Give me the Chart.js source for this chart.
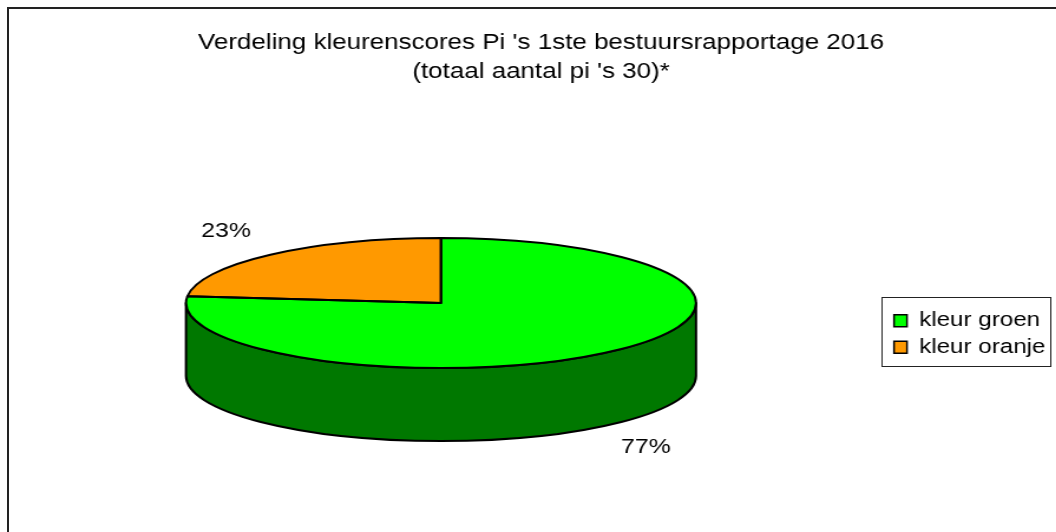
<!DOCTYPE html>
<html lang="nl">
<head>
<meta charset="UTF-8">
<title>Verdeling kleurenscores Pi's 2016</title>
<script src="https://cdn.jsdelivr.net/npm/chart.js"></script>
<style>
    html, body { margin: 0; padding: 0; background: #fff; overflow: hidden; }
    #frame {
        position: absolute; left: 7px; top: 7px;
        width: 1066px; height: 600px;
        border: 2px solid #222;
    }
    #pie { position: absolute; left: 0; top: 0; transform-origin: 0 0; }
</style>
</head>
<body>
<div id="frame"></div>
<canvas id="pie" width="917" height="532"></canvas>

<script>
    // data
    const TITLE_LINES = ["Verdeling kleurenscores Pi 's 1ste bestuursrapportage 2016", "(totaal aantal pi 's 30)*"];
    const CATEGORIES = ['kleur groen', 'kleur oranje'];
    const PI_COUNTS = [23, 7];

    // styling
    const TOP_COLORS = ['#00FF00', '#FF9900'];
    const SIDE_COLORS = ['#007800', '#995C00'];
    const FONT = "'Liberation Sans', Arial, sans-serif";

    // the original picture is stretched sideways, so is the canvas
    const STRETCH = 1.18;
    const PIE = { cx: 441 / STRETCH, cy: 303, rx: 255 / STRETCH, ry: 65, depth: 73 };

    const canvas = document.getElementById('pie');
    canvas.style.transform = 'scaleX(' + STRETCH + ')';

    const pie3d = {
        id: 'pie3d',
        beforeDatasetsDraw(chart) {
            const ctx = chart.ctx;
            const arcs = chart.getDatasetMeta(0).data;

            // front wall, only the part of each slice facing us
            arcs.forEach((arc, i) => {
                const s = arc.startAngle, e = arc.endAngle;
                for (let k = -1; k <= 1; k++) {
                    const lo = Math.max(s, k * 2 * Math.PI);
                    const hi = Math.min(e, k * 2 * Math.PI + Math.PI);
                    if (hi <= lo) continue;
                    ctx.save();
                    ctx.beginPath();
                    ctx.ellipse(PIE.cx, PIE.cy, PIE.rx, PIE.ry, 0, lo, hi, false);
                    ctx.ellipse(PIE.cx, PIE.cy + PIE.depth, PIE.rx, PIE.ry, 0, hi, lo, true);
                    ctx.closePath();
                    ctx.fillStyle = SIDE_COLORS[i];
                    ctx.fill();
                    ctx.lineWidth = 2;
                    ctx.lineJoin = 'round';
                    ctx.strokeStyle = '#000';
                    ctx.stroke();
                    ctx.restore();
                }
            });

            // squash the library's round pie onto the tilted top face
            const a0 = arcs[0];
            const R = a0.outerRadius;
            ctx.save();
            ctx.translate(PIE.cx, PIE.cy);
            ctx.scale(PIE.rx / R, PIE.ry / R);
            ctx.translate(-a0.x, -a0.y);
        },
        afterDatasetsDraw(chart) {
            const ctx = chart.ctx;
            ctx.restore();
            const arcs = chart.getDatasetMeta(0).data;
            const values = chart.data.datasets[0].data;
            const total = values.reduce((a, b) => a + b, 0);

            // slice outlines
            ctx.save();
            ctx.lineWidth = 2;
            ctx.lineJoin = 'round';
            ctx.strokeStyle = '#000';
            arcs.forEach(arc => {
                ctx.beginPath();
                ctx.moveTo(PIE.cx, PIE.cy);
                ctx.ellipse(PIE.cx, PIE.cy, PIE.rx, PIE.ry, 0, arc.startAngle, arc.endAngle, false);
                ctx.closePath();
                ctx.stroke();
            });

            // percentage labels outside the slices
            ctx.fillStyle = '#000';
            ctx.font = '21px ' + FONT;
            ctx.textAlign = 'center';
            ctx.textBaseline = 'middle';
            arcs.forEach((arc, i) => {
                const mid = (arc.startAngle + arc.endAngle) / 2;
                const c = Math.cos(mid), s = Math.sin(mid);
                const x = PIE.cx + c * PIE.rx * 1.23 - 5 / STRETCH;
                const y = PIE.cy + s * PIE.ry * 1.48 + (s > 0 ? PIE.depth : 0);
                ctx.fillText(Math.round(values[i] / total * 100) + '%', x, y);
            });
            ctx.restore();
        },
        afterDraw(chart) {
            // frame around the legend
            const boxes = chart.legend.legendHitBoxes;
            if (!boxes || !boxes.length) return;
            const left = Math.min(...boxes.map(b => b.left)) - 11;
            const right = Math.max(...boxes.map(b => b.left + b.width)) + 4;
            const top = Math.min(...boxes.map(b => b.top)) - 14;
            const bottom = Math.max(...boxes.map(b => b.top + b.height)) + 8;
            const ctx = chart.ctx;
            ctx.save();
            ctx.strokeStyle = '#222';
            ctx.lineWidth = 1;
            ctx.strokeRect(Math.round(left) + 0.5, Math.round(top) + 0.5, Math.round(right - left), Math.round(bottom - top));
            ctx.restore();
        }
    };

    const baseLabels = (Chart.overrides.doughnut || Chart.overrides.pie).plugins.legend.labels.generateLabels;

    new Chart(canvas, {
        type: 'pie',
        data: {
            labels: CATEGORIES,
            datasets: [{
                data: PI_COUNTS,
                backgroundColor: TOP_COLORS,
                borderWidth: 0,
                clip: false
            }]
        },
        options: {
            responsive: false,
            animation: false,
            events: [],
            layout: { padding: { left: 21, right: 21, bottom: 10 } },
            plugins: {
                title: {
                    display: true,
                    text: TITLE_LINES,
                    color: '#000',
                    font: { family: FONT, size: 22, weight: 'normal', lineHeight: 1.32 },
                    padding: { top: 28, bottom: 60 }
                },
                legend: {
                    position: 'right',
                    fullSize: false,
                    labels: {
                        color: '#000',
                        font: { family: FONT, size: 20.5 },
                        boxWidth: 11,
                        boxHeight: 12,
                        padding: 6,
                        generateLabels(chart) {
                            const items = baseLabels(chart);
                            items.forEach(it => { it.strokeStyle = '#000'; it.lineWidth = 1.5; });
                            return items;
                        }
                    }
                },
                tooltip: { enabled: false }
            }
        },
        plugins: [pie3d]
    });
</script>
</body>
</html>
